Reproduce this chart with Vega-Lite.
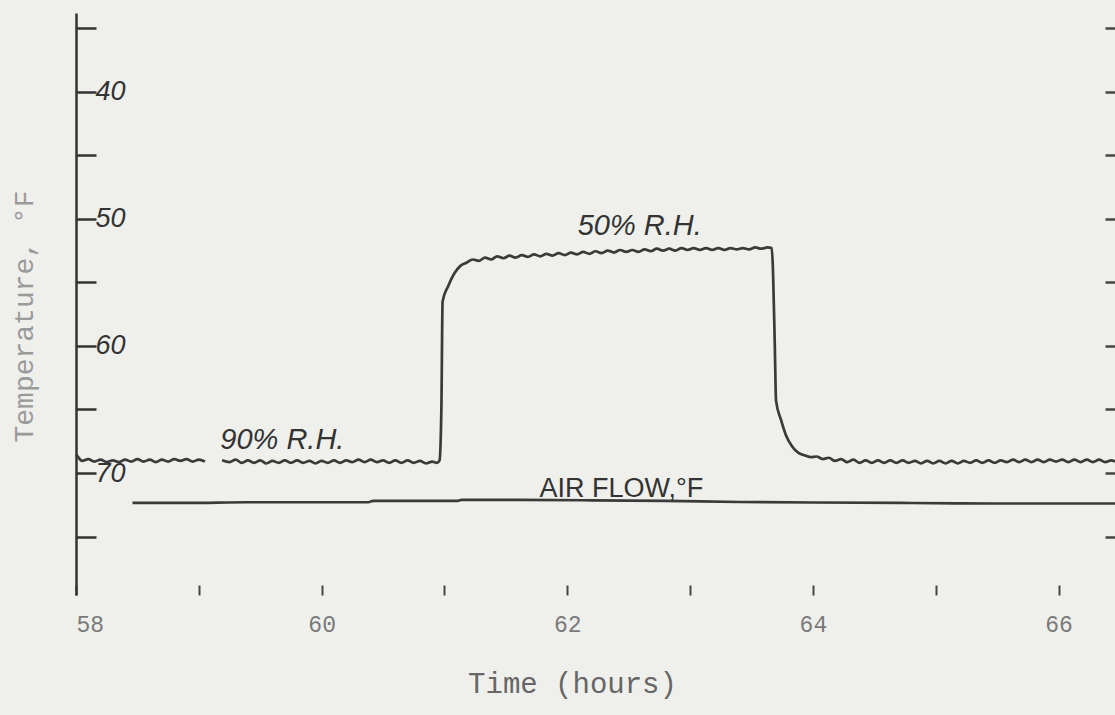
{
  "$schema": "https://vega.github.io/schema/vega-lite/v6.json",
  "width": 1039,
  "height": 582,
  "autosize": {"type": "none"},
  "padding": {"left": 76, "top": 13, "right": 0, "bottom": 120},
  "background": "#efefec",
  "config": {"view": {"stroke": null}},
  "datasets": {
    "trace": [
      {"t": 58.00, "v": 68.5, "s": "a"}, {"t": 58.03, "v": 68.9, "s": "a"},
      {"t": 58.05, "v": 69.05, "s": "a"}, {"t": 58.10, "v": 68.9, "s": "a"},
      {"t": 58.15, "v": 69.1, "s": "a"}, {"t": 58.20, "v": 68.95, "s": "a"},
      {"t": 58.25, "v": 69.15, "s": "a"}, {"t": 58.30, "v": 69.0, "s": "a"},
      {"t": 58.35, "v": 69.15, "s": "a"}, {"t": 58.40, "v": 68.95, "s": "a"},
      {"t": 58.45, "v": 69.1, "s": "a"}, {"t": 58.50, "v": 68.9, "s": "a"},
      {"t": 58.55, "v": 69.1, "s": "a"}, {"t": 58.60, "v": 68.95, "s": "a"},
      {"t": 58.65, "v": 69.15, "s": "a"}, {"t": 58.70, "v": 68.95, "s": "a"},
      {"t": 58.75, "v": 69.1, "s": "a"}, {"t": 58.80, "v": 68.9, "s": "a"},
      {"t": 58.85, "v": 69.05, "s": "a"}, {"t": 58.90, "v": 68.9, "s": "a"},
      {"t": 58.95, "v": 69.1, "s": "a"}, {"t": 59.00, "v": 68.95, "s": "a"},
      {"t": 59.05, "v": 69.1, "s": "a"},
      {"t": 59.19, "v": 69.0, "s": "b"}, {"t": 59.25, "v": 69.15, "s": "b"},
      {"t": 59.30, "v": 68.95, "s": "b"}, {"t": 59.35, "v": 69.2, "s": "b"},
      {"t": 59.40, "v": 69.0, "s": "b"}, {"t": 59.45, "v": 69.2, "s": "b"},
      {"t": 59.50, "v": 69.0, "s": "b"}, {"t": 59.55, "v": 69.25, "s": "b"},
      {"t": 59.60, "v": 69.05, "s": "b"}, {"t": 59.65, "v": 69.2, "s": "b"},
      {"t": 59.70, "v": 69.0, "s": "b"}, {"t": 59.75, "v": 69.2, "s": "b"},
      {"t": 59.80, "v": 69.0, "s": "b"}, {"t": 59.85, "v": 69.2, "s": "b"},
      {"t": 59.90, "v": 69.05, "s": "b"}, {"t": 59.95, "v": 69.25, "s": "b"},
      {"t": 60.00, "v": 69.05, "s": "b"}, {"t": 60.05, "v": 69.2, "s": "b"},
      {"t": 60.10, "v": 69.0, "s": "b"}, {"t": 60.15, "v": 69.2, "s": "b"},
      {"t": 60.20, "v": 69.0, "s": "b"}, {"t": 60.25, "v": 69.15, "s": "b"},
      {"t": 60.30, "v": 68.95, "s": "b"}, {"t": 60.35, "v": 69.15, "s": "b"},
      {"t": 60.40, "v": 68.95, "s": "b"}, {"t": 60.45, "v": 69.15, "s": "b"},
      {"t": 60.50, "v": 69.0, "s": "b"}, {"t": 60.55, "v": 69.2, "s": "b"},
      {"t": 60.60, "v": 69.0, "s": "b"}, {"t": 60.65, "v": 69.2, "s": "b"},
      {"t": 60.70, "v": 69.0, "s": "b"}, {"t": 60.75, "v": 69.2, "s": "b"},
      {"t": 60.80, "v": 69.05, "s": "b"}, {"t": 60.85, "v": 69.25, "s": "b"},
      {"t": 60.90, "v": 69.1, "s": "b"}, {"t": 60.94, "v": 69.2, "s": "b"},
      {"t": 60.96, "v": 69.0, "s": "b"}, {"t": 60.975, "v": 65.0, "s": "b"},
      {"t": 60.985, "v": 56.5, "s": "b"}, {"t": 61.03, "v": 55.3, "s": "b"},
      {"t": 61.08, "v": 54.3, "s": "b"}, {"t": 61.13, "v": 53.7, "s": "b"},
      {"t": 61.18, "v": 53.45, "s": "b"}, {"t": 61.23, "v": 53.2, "s": "b"},
      {"t": 61.28, "v": 53.3, "s": "b"}, {"t": 61.33, "v": 53.05, "s": "b"},
      {"t": 61.38, "v": 53.2, "s": "b"}, {"t": 61.43, "v": 52.95, "s": "b"},
      {"t": 61.48, "v": 53.1, "s": "b"}, {"t": 61.53, "v": 52.9, "s": "b"},
      {"t": 61.58, "v": 53.05, "s": "b"}, {"t": 61.63, "v": 52.85, "s": "b"},
      {"t": 61.68, "v": 53.0, "s": "b"}, {"t": 61.73, "v": 52.8, "s": "b"},
      {"t": 61.78, "v": 52.95, "s": "b"}, {"t": 61.83, "v": 52.75, "s": "b"},
      {"t": 61.88, "v": 52.9, "s": "b"}, {"t": 61.93, "v": 52.7, "s": "b"},
      {"t": 61.98, "v": 52.85, "s": "b"}, {"t": 62.03, "v": 52.65, "s": "b"},
      {"t": 62.08, "v": 52.8, "s": "b"}, {"t": 62.13, "v": 52.6, "s": "b"},
      {"t": 62.18, "v": 52.75, "s": "b"}, {"t": 62.23, "v": 52.55, "s": "b"},
      {"t": 62.28, "v": 52.7, "s": "b"}, {"t": 62.33, "v": 52.5, "s": "b"},
      {"t": 62.38, "v": 52.65, "s": "b"}, {"t": 62.43, "v": 52.45, "s": "b"},
      {"t": 62.48, "v": 52.6, "s": "b"}, {"t": 62.53, "v": 52.45, "s": "b"},
      {"t": 62.58, "v": 52.6, "s": "b"}, {"t": 62.63, "v": 52.4, "s": "b"},
      {"t": 62.68, "v": 52.55, "s": "b"}, {"t": 62.73, "v": 52.35, "s": "b"},
      {"t": 62.78, "v": 52.5, "s": "b"}, {"t": 62.83, "v": 52.35, "s": "b"},
      {"t": 62.88, "v": 52.5, "s": "b"}, {"t": 62.93, "v": 52.3, "s": "b"},
      {"t": 62.98, "v": 52.45, "s": "b"}, {"t": 63.03, "v": 52.3, "s": "b"},
      {"t": 63.08, "v": 52.45, "s": "b"}, {"t": 63.13, "v": 52.3, "s": "b"},
      {"t": 63.18, "v": 52.45, "s": "b"}, {"t": 63.23, "v": 52.3, "s": "b"},
      {"t": 63.28, "v": 52.45, "s": "b"}, {"t": 63.33, "v": 52.3, "s": "b"},
      {"t": 63.38, "v": 52.4, "s": "b"}, {"t": 63.43, "v": 52.3, "s": "b"},
      {"t": 63.48, "v": 52.4, "s": "b"}, {"t": 63.53, "v": 52.25, "s": "b"},
      {"t": 63.58, "v": 52.35, "s": "b"}, {"t": 63.63, "v": 52.25, "s": "b"},
      {"t": 63.665, "v": 52.3, "s": "b"}, {"t": 63.675, "v": 54.0, "s": "b"},
      {"t": 63.69, "v": 60.0, "s": "b"}, {"t": 63.70, "v": 64.3, "s": "b"},
      {"t": 63.74, "v": 65.8, "s": "b"}, {"t": 63.78, "v": 67.0, "s": "b"},
      {"t": 63.83, "v": 67.9, "s": "b"}, {"t": 63.88, "v": 68.4, "s": "b"},
      {"t": 63.93, "v": 68.6, "s": "b"}, {"t": 63.98, "v": 68.75, "s": "b"},
      {"t": 64.03, "v": 68.7, "s": "b"}, {"t": 64.08, "v": 68.9, "s": "b"},
      {"t": 64.13, "v": 68.8, "s": "b"}, {"t": 64.18, "v": 69.05, "s": "b"},
      {"t": 64.23, "v": 68.9, "s": "b"}, {"t": 64.28, "v": 69.15, "s": "b"},
      {"t": 64.33, "v": 68.95, "s": "b"}, {"t": 64.38, "v": 69.2, "s": "b"},
      {"t": 64.43, "v": 69.0, "s": "b"}, {"t": 64.48, "v": 69.2, "s": "b"},
      {"t": 64.53, "v": 69.0, "s": "b"}, {"t": 64.58, "v": 69.2, "s": "b"},
      {"t": 64.63, "v": 69.0, "s": "b"}, {"t": 64.68, "v": 69.2, "s": "b"},
      {"t": 64.73, "v": 69.0, "s": "b"}, {"t": 64.78, "v": 69.2, "s": "b"},
      {"t": 64.83, "v": 69.05, "s": "b"}, {"t": 64.88, "v": 69.25, "s": "b"},
      {"t": 64.93, "v": 69.05, "s": "b"}, {"t": 64.98, "v": 69.25, "s": "b"},
      {"t": 65.03, "v": 69.05, "s": "b"}, {"t": 65.08, "v": 69.25, "s": "b"},
      {"t": 65.13, "v": 69.05, "s": "b"}, {"t": 65.18, "v": 69.25, "s": "b"},
      {"t": 65.23, "v": 69.05, "s": "b"}, {"t": 65.28, "v": 69.2, "s": "b"},
      {"t": 65.33, "v": 69.0, "s": "b"}, {"t": 65.38, "v": 69.2, "s": "b"},
      {"t": 65.43, "v": 69.0, "s": "b"}, {"t": 65.48, "v": 69.2, "s": "b"},
      {"t": 65.53, "v": 69.0, "s": "b"}, {"t": 65.58, "v": 69.15, "s": "b"},
      {"t": 65.63, "v": 68.95, "s": "b"}, {"t": 65.68, "v": 69.15, "s": "b"},
      {"t": 65.73, "v": 68.95, "s": "b"}, {"t": 65.78, "v": 69.15, "s": "b"},
      {"t": 65.83, "v": 68.95, "s": "b"}, {"t": 65.88, "v": 69.15, "s": "b"},
      {"t": 65.93, "v": 68.95, "s": "b"}, {"t": 65.98, "v": 69.1, "s": "b"},
      {"t": 66.03, "v": 68.95, "s": "b"}, {"t": 66.08, "v": 69.15, "s": "b"},
      {"t": 66.13, "v": 68.95, "s": "b"}, {"t": 66.18, "v": 69.15, "s": "b"},
      {"t": 66.23, "v": 68.95, "s": "b"}, {"t": 66.28, "v": 69.15, "s": "b"},
      {"t": 66.33, "v": 68.95, "s": "b"}, {"t": 66.38, "v": 69.15, "s": "b"},
      {"t": 66.43, "v": 69.0, "s": "b"}, {"t": 66.46, "v": 69.1, "s": "b"},
      {"t": 58.46, "v": 72.35, "s": "c"}, {"t": 58.9, "v": 72.35, "s": "c"},
      {"t": 59.4, "v": 72.3, "s": "c"}, {"t": 59.9, "v": 72.3, "s": "c"},
      {"t": 60.38, "v": 72.3, "s": "c"}, {"t": 60.42, "v": 72.2, "s": "c"},
      {"t": 60.8, "v": 72.2, "s": "c"}, {"t": 61.1, "v": 72.2, "s": "c"},
      {"t": 61.14, "v": 72.12, "s": "c"}, {"t": 61.6, "v": 72.12, "s": "c"},
      {"t": 62.2, "v": 72.15, "s": "c"}, {"t": 62.8, "v": 72.2, "s": "c"},
      {"t": 63.4, "v": 72.28, "s": "c"}, {"t": 64.0, "v": 72.32, "s": "c"},
      {"t": 64.8, "v": 72.36, "s": "c"}, {"t": 65.6, "v": 72.4, "s": "c"},
      {"t": 66.46, "v": 72.4, "s": "c"}
    ],
    "rhnotes": [
      {"t": 59.68, "v": 67.4, "label": "90% R.H."},
      {"t": 62.59, "v": 50.55, "label": "50% R.H."}
    ],
    "airnote": [
      {"t": 62.44, "v": 71.25, "label": "AIR FLOW,°F"}
    ]
  },
  "resolve": {"scale": {"y": "independent"}, "axis": {"y": "independent"}},
  "layer": [
    {
      "data": {"name": "trace"},
      "mark": {"type": "line", "interpolate": "monotone", "stroke": "#3a3a3a", "strokeWidth": 2.7},
      "encoding": {
        "x": {
          "field": "t", "type": "quantitative",
          "scale": {"domain": [58, 66.46], "nice": false, "zero": false},
          "axis": {
            "values": [58, 59, 60, 61, 62, 63, 64, 65, 66],
            "format": "d",
            "labelExpr": "datum.value % 2 === 0 ? datum.label : ''",
            "domain": false, "grid": false,
            "tickSize": -10, "tickColor": "#444", "tickWidth": 2,
            "labelPadding": 28, "labelFont": "Liberation Mono", "labelFontSize": 23, "labelColor": "#7a7a7a",
            "title": "Time (hours)", "titleFont": "Liberation Mono", "titleFontSize": 29,
            "titleFontWeight": "normal", "titleColor": "#666",
            "titleX": 496, "titleY": 88, "titleAlign": "center", "titleBaseline": "middle"
          }
        },
        "y": {
          "field": "v", "type": "quantitative",
          "scale": {"domain": [33.8, 79.6], "reverse": true, "nice": false, "zero": false},
          "axis": {
            "orient": "left",
            "values": [35, 40, 45, 50, 55, 60, 65, 70, 75],
            "labelExpr": "datum.value % 10 === 0 ? datum.label : ''",
            "grid": false,
            "domainColor": "#333", "domainWidth": 2.5,
            "tickColor": "#333", "tickWidth": 2.5, "tickSize": -20,
            "labelAlign": "left", "labelBaseline": "middle", "labelPadding": 1,
            "labelFont": "Liberation Sans", "labelFontStyle": "italic", "labelFontSize": 27, "labelColor": "#333",
            "title": "Temperature, °F", "titleFont": "Liberation Mono", "titleFontSize": 28,
            "titleFontWeight": "normal", "titleColor": "#9a9a9a",
            "titleX": -52, "titleY": 303, "titleAlign": "center", "titleBaseline": "middle",
            "encode": {"ticks": {"update": {"x2": {"signal": "datum.value % 10 === 0 ? 20 : 14"}}}}
          }
        },
        "detail": {"field": "s"}
      }
    },
    {
      "data": {"name": "rhnotes"},
      "mark": {"type": "text", "font": "Liberation Sans", "fontStyle": "italic", "fontSize": 29, "color": "#333", "align": "center", "baseline": "middle"},
      "encoding": {
        "x": {"field": "t", "type": "quantitative"},
        "y": {"field": "v", "type": "quantitative", "scale": {"domain": [33.8, 79.6], "reverse": true, "nice": false, "zero": false}, "axis": null},
        "text": {"field": "label"}
      }
    },
    {
      "data": {"name": "airnote"},
      "mark": {"type": "text", "font": "Liberation Sans", "fontSize": 27, "letterSpacing": 2, "color": "#333", "align": "center", "baseline": "middle"},
      "encoding": {
        "x": {"field": "t", "type": "quantitative"},
        "y": {
          "field": "v", "type": "quantitative",
          "scale": {"domain": [33.8, 79.6], "reverse": true, "nice": false, "zero": false},
          "axis": {
            "orient": "right", "values": [35, 40, 45, 50, 55, 60, 65, 70, 75],
            "domain": false, "labels": false, "title": null, "grid": false,
            "tickSize": -10, "tickColor": "#444", "tickWidth": 2.5
          }
        },
        "text": {"field": "label"}
      }
    }
  ]
}
